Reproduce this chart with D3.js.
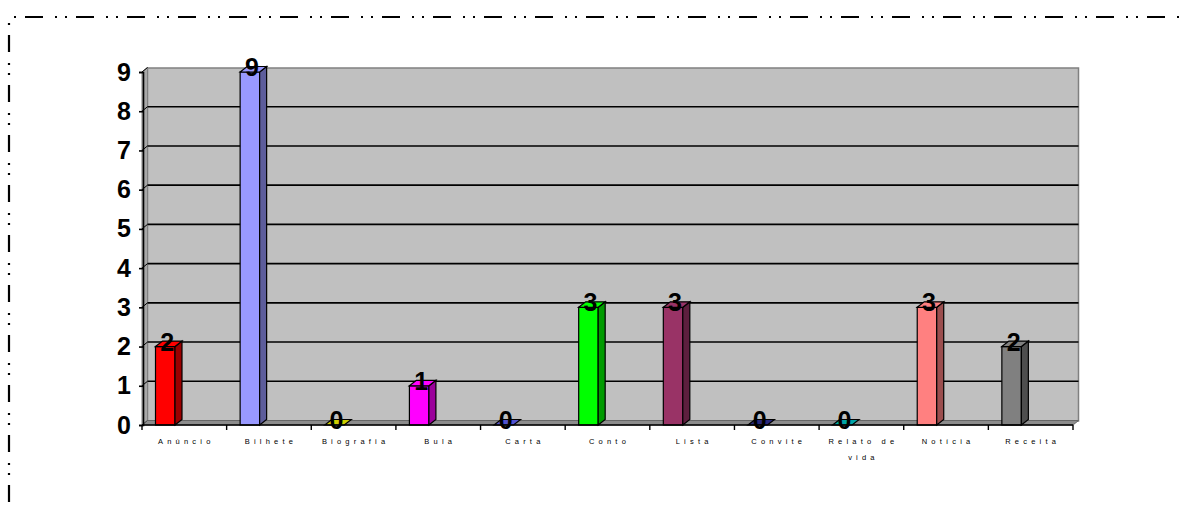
<!DOCTYPE html>
<html><head><meta charset="utf-8">
<script src="https://cdn.jsdelivr.net/npm/d3@7"></script>
<style>
html,body{margin:0;padding:0;background:#fff;}
svg{display:block;font-family:"Liberation Sans",Arial,sans-serif;}
</style></head>
<body>
<svg id="chart" width="1187" height="505"></svg>
<script>
const categories = ["Anúncio","Bilhete","Biografia","Bula","Carta","Conto","Lista","Convite","Relato de vida","Notícia","Receita"];
const values = [2,9,0,1,0,3,3,0,0,3,2];
const barColors = ["#FF0000","#9999FF","#FFFF00","#FF00FF","#6666FF","#00FF00","#993366","#333399","#00CCCC","#FF8080","#808080"];
const yTicks = [0,1,2,3,4,5,6,7,8,9];

const svg = d3.select("#chart");
const x = d3.scaleBand().domain(categories).range([142, 1073]).paddingInner(0).paddingOuter(0);
const y = d3.scaleLinear().domain([0, 9]).range([425, 72]);
const wdx = 5.5, wdy = 4.5;   // wall depth
const bdx = 7, bdy = 5.5;     // bar depth
const barOff = 13.5, barW = 19.5;
const x0 = x.range()[0], x1 = x.range()[1];

// outer dash-dot-dot border
svg.append("line").attr("x1", 8).attr("y1", 17).attr("x2", 1200).attr("y2", 17)
  .attr("stroke", "#000").attr("stroke-width", 2.2)
  .attr("stroke-dasharray", "18,12,2,8,2,9").attr("stroke-dashoffset", 34);
svg.append("line").attr("x1", 9).attr("y1", 17).attr("x2", 9).attr("y2", 520)
  .attr("stroke", "#000").attr("stroke-width", 2.2)
  .attr("stroke-dasharray", "17,11,2,8,2,10").attr("stroke-dashoffset", 32);

// back wall
svg.append("rect").attr("x", x0 + wdx).attr("y", y(9) - wdy + 0.5)
  .attr("width", x1 - x0).attr("height", y(0) - y(9))
  .attr("fill", "#C0C0C0").attr("stroke", "#808080").attr("stroke-width", 1.5);
// left side wall
svg.append("path")
  .attr("d", `M${x0},${y(0)} L${x0},${y(9)} L${x0 + wdx},${y(9) - wdy} L${x0 + wdx},${y(0) - wdy} Z`)
  .attr("fill", "#A8A8A8").attr("stroke", "#808080").attr("stroke-width", 1);
// floor
svg.append("path")
  .attr("d", `M${x0},${y(0)} L${x0 + wdx},${y(0) - wdy} L${x1 + wdx},${y(0) - wdy} L${x1},${y(0)} Z`)
  .attr("fill", "#8C8C8C").attr("stroke", "#666").attr("stroke-width", 1);

// gridlines on back wall
svg.append("g").selectAll("line").data(yTicks.filter(v => v > 0 && v < 9)).join("line")
  .attr("x1", x0 + wdx).attr("x2", x1 + wdx)
  .attr("y1", d => y(d) - wdy).attr("y2", d => y(d) - wdy)
  .attr("stroke", "#000").attr("stroke-width", 1.6);
// slanted lines on side wall
svg.append("g").selectAll("line").data(yTicks).join("line")
  .attr("x1", x0).attr("x2", x0 + wdx)
  .attr("y1", d => y(d)).attr("y2", d => y(d) - wdy)
  .attr("stroke", d => d === 0 ? "#555" : "#000").attr("stroke-width", 1);

// bars
const shade = (c, k) => d3.color(c).darker(k).formatHex();
const bars = svg.append("g").selectAll("g").data(categories).join("g");
bars.each(function (c, i) {
  const g = d3.select(this);
  const v = values[i];
  const bx = x(c) + barOff, ty = y(v), by = y(0);
  const col = barColors[i];
  if (v > 0) {
    g.append("rect").attr("x", bx).attr("y", ty).attr("width", barW).attr("height", by - ty)
      .attr("fill", col).attr("stroke", "#000").attr("stroke-width", 1.2);
    g.append("path")
      .attr("d", `M${bx + barW},${by} L${bx + barW},${ty} L${bx + barW + bdx},${ty - bdy} L${bx + barW + bdx},${by - bdy} Z`)
      .attr("fill", shade(col, 1.4)).attr("stroke", "#000").attr("stroke-width", 1.2);
  }
  g.append("path")
    .attr("d", `M${bx},${ty} L${bx + bdx},${ty - bdy} L${bx + barW + bdx},${ty - bdy} L${bx + barW},${ty} Z`)
    .attr("fill", v > 0 ? col : shade(col, 0.6)).attr("stroke", "#000").attr("stroke-width", 1.2);
  g.append("text").attr("x", bx + barW / 2 + 2).attr("y", ty + 4)
    .attr("text-anchor", "middle").attr("font-size", 25).attr("font-weight", "bold")
    .attr("fill", "#000").text(v);
});

// y axis
const yAxis = svg.append("g").attr("transform", `translate(${x0 + 1},0)`)
  .call(d3.axisLeft(y).tickValues(yTicks).tickFormat(d3.format("d")).tickSize(4).tickPadding(8));
yAxis.select(".domain").attr("stroke", "#000").attr("stroke-width", 1.6);
yAxis.selectAll(".tick line").attr("stroke", "#000").attr("stroke-width", 1.6);
yAxis.selectAll(".tick text").attr("font-size", 25).attr("font-weight", "bold")
  .attr("font-family", "'Liberation Sans',Arial,sans-serif").attr("fill", "#000");

// x axis
svg.append("line").attr("x1", x0).attr("x2", x1).attr("y1", y(0)).attr("y2", y(0))
  .attr("stroke", "#000").attr("stroke-width", 1.6);
const bounds = categories.map(c => x(c)).concat([x1]);
svg.append("g").selectAll("line").data(bounds).join("line")
  .attr("x1", d => d).attr("x2", d => d).attr("y1", y(0)).attr("y2", y(0) + 5)
  .attr("stroke", "#000").attr("stroke-width", 1.4);

// category labels
const labels = svg.append("g").selectAll("text").data(categories).join("text")
  .attr("x", c => x(c) + x.bandwidth() / 2 + 2).attr("y", 444)
  .attr("text-anchor", "middle").attr("font-size", 7.5).attr("letter-spacing", 4.2)
  .attr("fill", "#000");
labels.each(function (c) {
  const t = d3.select(this);
  const parts = c === "Relato de vida" ? ["Relato de", "vida"] : [c];
  parts.forEach((p, k) => {
    t.append("tspan").attr("x", x(c) + x.bandwidth() / 2 + 2).attr("dy", k === 0 ? 0 : 16).text(p);
  });
});
</script>
</body></html>
